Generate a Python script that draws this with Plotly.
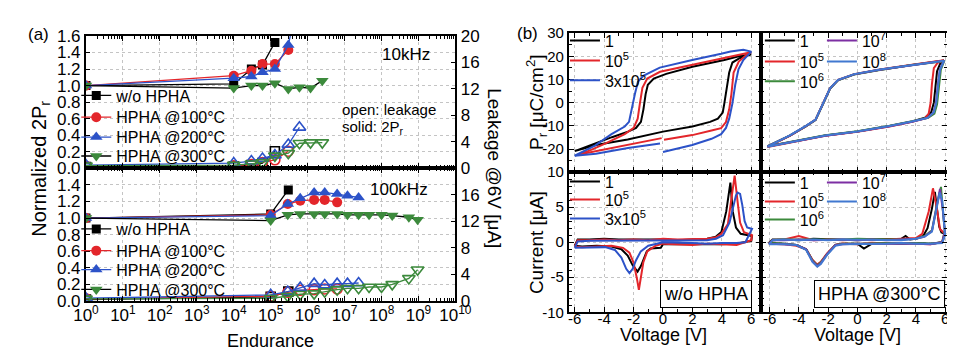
import plotly.graph_objects as go

W, H = 955, 354
def px(x): return x / W
def py(y): return 1 - y / H

FONT = "Liberation Sans, Arial, sans-serif"
BLACK, RED, BLUE, GREEN, PURPLE, LBLUE = "#000000", "#e3262b", "#2c52c8", "#3c8a3c", "#7d2fa3", "#4178d0"
GRID = "#c4c4c4"

# ---------------- (a) endurance data ----------------
# 10 kHz : normalized 2Pr (left axis), leakage @6V [uA] (right axis)
n10_wo = [1, 1e4, 3e4, 6e4, 1.3e5]
pr10_wo = [1.00, 1.02, 1.20, 1.25, 1.52]
lk10_wo = [0.2, 0.3, 0.5, 0.8, 2.6]
n10_100 = [1, 1e4, 3e4, 6e4, 1.3e5, 3e5]
pr10_100 = [1.00, 1.12, 1.18, 1.26, 1.26, 1.43]
lk10_100 = [0.3, 0.4, 0.6, 0.9, 1.3, 2.6]
n10_200 = [1, 1e4, 3e4, 6e4, 1.3e5, 3e5, 6e5]
pr10_200 = [1.00, 1.09, 1.11, 1.16, 1.20, 1.49, 2.10]
lk10_200 = [0.5, 0.8, 1.1, 1.5, 2.0, 3.6, 6.2]
n10_300 = [1, 1e4, 3e4, 6e4, 1.3e5, 3e5, 6e5, 1.2e6, 2.5e6]
pr10_300 = [1.00, 0.97, 1.00, 1.00, 1.03, 0.96, 0.98, 0.97, 1.06]
lk10_300 = [0.4, 0.5, 0.7, 0.9, 1.9, 2.3, 3.8, 3.9, 3.9]

# 100 kHz
n100_wo = [1, 1e5, 3e5]
pr100_wo = [1.00, 1.05, 1.34]
lk100_wo = [0.2, 0.6, 1.4]
n100_100 = [1, 1e5, 2.9e5, 6.3e5, 1.5e6, 2.9e6, 6.3e6]
pr100_100 = [1.00, 1.04, 1.17, 1.21, 1.22, 1.22, 1.19]
lk100_100 = [0.3, 0.7, 1.3, 1.6, 1.7, 1.8, 1.8]
n100_200 = [1, 1e5, 2.9e5, 6.3e5, 1.5e6, 2.9e6, 6.3e6, 1.2e7, 2.4e7]
pr100_200 = [1.00, 1.03, 1.17, 1.24, 1.31, 1.31, 1.29, 1.27, 1.25]
lk100_200 = [0.4, 0.9, 1.4, 2.0, 2.6, 2.4, 2.6, 2.6, 2.7]
n100_300 = [1, 1e5, 2.9e5, 6.3e5, 1.5e6, 2.9e6, 6.3e6, 1.2e7, 2.4e7, 4.6e7, 1e8, 1.95e8, 5.5e8, 9.5e8]
pr100_300 = [1.00, 0.97, 1.04, 1.05, 1.05, 1.05, 1.05, 1.04, 1.04, 1.04, 1.04, 1.03, 1.01, 0.98]
lk100_300 = [0.3, 0.4, 0.7, 1.0, 1.1, 1.4, 1.7, 1.9, 1.9, 2.1, 2.1, 2.5, 3.4, 4.7]

legend_a = ["w/o HPHA", "HPHA @100°C", "HPHA @200°C", "HPHA @300°C"]

# ---------------- (b) P-V loops, w/o HPHA ----------------
v_pa1 = [-6.0, -4.56, -2.4, 0.0, 2.0, 3.2, 3.73, 4.06, 4.17, 4.32, 4.5, 4.72, 5.15, 6.0,
         5.15, 4.17, 2.0, 0.22, -0.63, -1.03, -1.18, -1.33, -1.5, -1.83, -2.38, -3.47, -4.56, -6.0]
p_pa1 = [-20.9, -18.3, -15.9, -12.5, -10.3, -8.3, -6.9, -4.3, -0.3, 6.4, 13.0, 17.3, 19.0, 20.8,
         20.0, 18.4, 15.5, 12.4, 10.4, 7.7, 3.7, -2.9, -8.3, -10.9, -12.5, -14.9, -17.6, -20.9]
v_pa2 = [-5.79, -4.56, -2.38, -0.09, None, 0.07, 1.99, 3.3, 3.95, 4.28, 4.5, 4.65, 4.8, 5.15, 5.57, 5.98,
         5.04, 4.17, 1.99, -0.2, -1.07, -1.4, -1.57, -1.72, -1.99, -2.6, -3.9, -5.0, -5.79]
p_pa2 = [-22.5, -20.9, -18.3, -15.3, None, -16.0, -14.0, -12.0, -11.0, -8.4, -2.9, 3.7, 13.0, 17.7, 20.0, 21.7,
         20.4, 19.1, 16.4, 13.3, 10.4, 6.4, -0.3, -6.9, -10.9, -13.6, -17.6, -20.7, -22.5]
v_pa3 = [-6.0, -4.56, -2.38, -0.2, None, 0.0, 1.99, 3.3, 3.95, 4.28, 4.5, 4.72, 4.91, 5.13, 5.46, 6.0,
         5.46, 4.59, 3.95, 1.99, -0.22, -1.31, -1.7, -1.91, -2.12, -2.31, -2.6, -3.5, -4.6, -6.0]
p_pa3 = [-22.9, -22.0, -19.6, -17.6, None, -21.3, -18.3, -15.6, -13.6, -10.9, -6.9, -0.3, 7.7, 14.4, 18.4, 22.0,
         22.8, 22.1, 21.1, 18.4, 15.1, 11.7, 9.1, 3.7, -2.9, -8.3, -10.3, -13.6, -18.4, -22.9]
names_a = ["1", "10<sup>5</sup>", "3x10<sup>5</sup>"]

# ---------------- (b) P-V loops, HPHA @300°C ----------------
v_pb1 = [-6.15, -3.96, -2.2, 0.0, 2.2, 3.74, 4.62, 5.05, 5.23, 5.34, 5.45, 5.67, 5.93,
         3.74, 1.54, -0.22, -1.32, -1.87, -2.2, -2.53, -2.86, -3.52, -4.62, -6.15]
p_pb1 = [-18.9, -16.2, -14.2, -12.4, -10.1, -8.1, -6.5, -4.1, 0.0, 6.8, 13.5, 16.9, 18.2,
         16.2, 14.2, 12.2, 9.7, 6.1, 1.4, -3.4, -7.4, -10.1, -14.2, -18.9]
v_pb2 = [-6.15, -3.96, -2.2, 0.0, 2.2, 3.74, 4.62, 4.88, 5.01, 5.1, 5.23, 5.49, 5.93,
         3.74, 1.54, -0.22, -1.32, -1.87, -2.2, -2.53, -2.86, -3.52, -4.62, -6.15]
p_pb2 = [-19.1, -16.4, -14.3, -12.6, -10.3, -8.3, -6.8, -4.7, 0.0, 8.1, 14.9, 17.2, 18.3,
         16.3, 14.3, 12.3, 9.8, 6.2, 1.5, -3.3, -7.3, -10.2, -14.3, -19.1]
v_pb3 = [-6.15, -3.96, -2.2, 0.0, 2.2, 3.74, 4.84, 5.27, 5.45, 5.58, 5.71, 5.93,
         3.74, 1.54, -0.22, -1.32, -1.87, -2.2, -2.53, -2.86, -3.52, -4.62, -6.15]
p_pb3 = [-18.8, -16.1, -14.1, -12.3, -10.0, -8.0, -6.5, -4.7, -0.7, 6.8, 14.2, 17.8,
         16.2, 14.1, 12.1, 9.6, 6.0, 1.3, -3.5, -7.5, -10.2, -14.2, -18.8]
v_pb4 = [-6.15, -3.96, -2.2, 0.0, 2.2, 3.74, 4.8, 5.2, 5.38, 5.5, 5.64, 5.93,
         3.74, 1.54, -0.22, -1.32, -1.87, -2.2, -2.53, -2.86, -3.52, -4.62, -6.15]
p_pb4 = [-18.9, -16.3, -14.3, -12.5, -10.2, -8.2, -6.6, -4.3, 0.0, 7.2, 14.3, 18.1,
         16.2, 14.2, 12.2, 9.7, 6.1, 1.4, -3.4, -7.4, -10.1, -14.2, -18.9]
v_pb5 = [-6.15, -3.96, -2.2, 0.0, 2.2, 3.74, 4.8, 5.23, 5.4, 5.52, 5.65, 5.93,
         3.74, 1.54, -0.22, -1.32, -1.87, -2.2, -2.53, -2.86, -3.52, -4.62, -6.15]
p_pb5 = [-19.0, -16.2, -14.2, -12.4, -10.1, -8.1, -6.6, -4.1, 0.0, 7.4, 14.2, 18.1,
         16.3, 14.3, 12.3, 9.8, 6.2, 1.5, -3.3, -7.3, -10.0, -14.1, -19.0]
names_b = ["1", "10<sup>5</sup>", "10<sup>6</sup>", "10<sup>7</sup>", "10<sup>8</sup>"]

# ---------------- (b) I-V curves, w/o HPHA ----------------
v_ia1 = [-6.0, -5.8, -5.0, -4.0, -3.0, -2.0, -1.0, 0.0, 1.0, 2.0, 3.0, 3.6, 3.97, 4.3, 4.45, 4.58, 4.74, 4.96, 5.28, 6.05,
         6.0, 5.0, 4.0, 3.0, 2.0, 1.0, 0.0, -0.15, -0.85, -1.1, -1.3, -1.5, -1.73, -2.06, -2.4, -2.83, -3.5, -4.5, -5.5, -6.0]
i_ia1 = [-0.5, 0.4, 0.4, 0.5, 0.4, 0.4, 0.5, 0.4, 0.3, 0.4, 0.5, 0.8, 1.45, 4.4, 6.7, 8.5, 4.4, 2.1, 1.2, 0.9,
         0.2, -0.2, -0.3, -0.3, -0.3, -0.2, -0.3, -0.8, -0.9, -1.3, -2.4, -3.4, -4.2, -3.3, -1.9, -1.0, -0.6, -0.5, -0.6, -0.5]
v_ia2 = [-6.0, -5.8, -5.0, -4.0, -3.0, -2.0, -1.0, 0.0, 1.0, 2.0, 3.0, 3.6, 3.97, 4.41, 4.63, 4.8, 4.87, 5.07, 5.24, 5.5, 6.05,
         6.0, 5.0, 4.0, 3.0, 2.0, 1.0, 0.0, -0.5, -1.07, -1.34, -1.56, -1.64, -1.78, -2.0, -2.28, -2.72, -3.5, -4.5, -5.5, -6.0]
i_ia2 = [-0.6, 0.3, 0.3, 0.4, 0.3, 0.4, 0.3, 0.5, 0.4, 0.4, 0.5, 0.7, 1.2, 2.6, 5.8, 8.9, 9.5, 5.8, 2.8, 1.45, 1.0,
         0.3, -0.4, -0.3, -0.2, -0.4, -0.3, -0.2, -0.5, -1.3, -2.9, -5.6, -6.8, -5.1, -2.9, -1.5, -0.8, -0.5, -0.6, -0.7, -0.6]
v_ia3 = [-6.0, -5.8, -5.0, -4.0, -3.0, -2.0, -1.0, 0.0, 1.0, 2.0, 3.0, 3.6, 4.08, 4.52, 4.8, 4.96, 5.07, 5.24, 5.39, 5.55, 5.72, 6.05,
         5.6, 5.0, 4.0, 3.0, 2.0, 1.0, 0.0, -1.0, -1.51, -1.84, -2.06, -2.28, -2.5, -2.83, -3.27, -3.93, -5.0, -6.0]
i_ia3 = [-0.8, 0.1, 0.2, 0.2, 0.3, 0.2, 0.3, 0.2, 0.2, 0.3, 0.3, 0.5, 1.0, 2.8, 5.3, 6.7, 7.1, 6.9, 5.3, 3.0, 2.1, 1.9,
         0.0, -0.1, -0.1, -0.2, -0.1, -0.1, 0.0, -0.5, -1.3, -2.6, -3.8, -4.4, -3.8, -2.2, -1.1, -0.7, -0.8, -0.8]

# ---------------- (b) I-V curves, HPHA @300°C ----------------
v_ib1 = [-6.05, -5.8, -5.0, -4.0, -3.0, -2.0, -1.0, 0.0, 1.0, 2.0, 3.0, 3.3, 3.6, 4.0, 4.5, 4.8, 5.1, 5.3, 5.45, 5.6, 5.75, 6.0,
         5.8, 5.0, 4.0, 3.0, 2.0, 1.0, 0.45, 0.0, -1.0, -1.5, -2.07, -2.5, -2.74, -3.07, -3.5, -4.17, -5.0, -6.05]
i_ib1 = [-0.1, 0.4, 0.4, 0.3, 0.5, 0.4, 0.4, 0.3, 0.4, 0.4, 0.5, 0.9, 0.4, 0.5, 0.9, 2.0, 4.8, 7.2, 5.0, 2.2, 1.4, 1.2,
         0.0, -0.2, -0.1, -0.2, -0.1, -0.2, -0.9, -0.2, -0.2, -0.4, -1.7, -2.9, -3.3, -2.6, -1.0, -0.4, -0.2, -0.1]
v_ib2 = [-6.05, -5.8, -5.0, -4.0, -3.0, -2.0, -1.0, 0.0, 1.0, 2.0, 3.0, 4.0, 4.44, 4.88, 5.17, 5.43, 5.65, 5.98,
         5.8, 5.0, 4.0, 3.0, 2.0, 1.0, 0.0, -1.0, -1.5, -2.07, -2.5, -2.74, -3.07, -3.5, -4.17, -5.0, -6.05]
i_ib2 = [-0.2, 0.3, 0.4, 0.9, 0.3, 0.4, 0.3, 0.4, 0.3, 0.4, 0.4, 0.6, 1.2, 4.4, 7.7, 4.9, 1.9, 1.2,
         0.0, -0.3, -0.2, -0.1, -0.2, -0.1, -0.3, -0.2, -0.4, -1.6, -2.8, -3.2, -2.5, -1.0, -0.5, -0.3, -0.2]
v_ib3 = [-6.05, -5.8, -5.0, -4.0, -3.0, -2.0, -1.0, 0.0, 1.0, 2.0, 3.0, 4.0, 4.6, 5.1, 5.43, 5.72, 5.87, 5.98,
         5.8, 5.0, 4.0, 3.0, 2.0, 1.0, 0.0, -1.0, -1.5, -2.07, -2.5, -2.74, -3.07, -3.5, -4.17, -5.0, -6.05]
i_ib3 = [-0.2, 0.3, 0.4, 0.4, 0.4, 0.3, 0.4, 0.5, 0.4, 0.4, 0.4, 0.5, 0.9, 1.7, 5.3, 7.9, 3.9, 1.7,
         0.0, -0.2, -0.1, -0.2, -0.1, -0.2, -0.2, -0.2, -0.4, -1.7, -2.9, -3.3, -2.6, -1.0, -0.4, -0.2, -0.1]
v_ib4 = [-6.05, -5.8, -5.0, -4.0, -3.0, -2.0, -1.0, 0.0, 1.0, 2.0, 3.0, 4.0, 4.6, 5.1, 5.4, 5.65, 5.85, 5.98,
         5.8, 5.0, 4.0, 3.0, 2.0, 1.0, 0.0, -1.0, -1.5, -2.07, -2.5, -2.74, -3.07, -3.5, -4.17, -5.0, -6.05]
i_ib4 = [-0.2, 0.3, 0.3, 0.4, 0.3, 0.4, 0.4, 0.3, 0.4, 0.3, 0.4, 0.5, 0.8, 1.6, 4.8, 7.6, 4.5, 1.5,
         0.0, -0.3, -0.2, -0.2, -0.1, -0.2, -0.2, -0.3, -0.4, -1.7, -3.0, -3.4, -2.7, -1.0, -0.4, -0.3, -0.2]
v_ib5 = [-6.05, -5.8, -5.0, -4.0, -3.0, -2.0, -1.0, 0.0, 1.0, 2.0, 3.0, 4.0, 4.6, 5.1, 5.4, 5.63, 5.8, 5.95, 6.0,
         5.8, 5.0, 4.0, 3.0, 2.0, 1.0, 0.0, -1.0, -1.5, -2.07, -2.5, -2.74, -3.07, -3.5, -4.17, -5.0, -6.05]
i_ib5 = [-0.3, 0.3, 0.4, 0.3, 0.4, 0.3, 0.4, 0.4, 0.3, 0.4, 0.3, 0.5, 0.8, 1.5, 4.5, 7.1, 6.0, 2.5, 1.0,
         -0.1, -0.2, -0.2, -0.1, -0.2, -0.2, -0.2, -0.3, -0.5, -1.8, -3.1, -3.5, -2.8, -1.1, -0.4, -0.3, -0.3]

fig = go.Figure()

# one small legend per entry, so each entry sits where the reference puts it
legend_layout = {}
def new_legend(x, y, size=16):
    k = len(legend_layout) + 1
    key = "legend" if k == 1 else "legend%d" % k
    legend_layout[key] = dict(x=px(x), y=py(y), xanchor="left", yanchor="middle",
                              bgcolor="rgba(0,0,0,0)", borderwidth=0,
                              font=dict(size=size, family=FONT, color="black"))
    return key

# ---------- (a) traces ----------
def endurance(n, pr, lk, color, lcolor, sym, size, name, xa, yl, yr, leg):
    fig.add_trace(go.Scatter(x=n, y=lk, xaxis=xa, yaxis=yr, mode="lines+markers",
                             line=dict(color=color, width=1.3),
                             marker=dict(symbol=sym + "-open", size=size, color=color,
                                         line=dict(width=1.6, color=color)),
                             showlegend=False, hoverinfo="skip"))
    fig.add_trace(go.Scatter(x=n, y=pr, xaxis=xa, yaxis=yl, mode="lines+markers", name=name,
                             line=dict(color=lcolor, width=1.3),
                             marker=dict(symbol=sym, size=size, color=color),
                             legend=leg, showlegend=True))

sets10 = [(n10_wo, pr10_wo, lk10_wo), (n10_100, pr10_100, lk10_100),
          (n10_200, pr10_200, lk10_200), (n10_300, pr10_300, lk10_300)]
sets100 = [(n100_wo, pr100_wo, lk100_wo), (n100_100, pr100_100, lk100_100),
           (n100_200, pr100_200, lk100_200), (n100_300, pr100_300, lk100_300)]
styles = [(BLACK, BLACK, "square", 9), (RED, RED, "circle", 10),
          (BLUE, BLUE, "triangle-up", 11), (GREEN, BLACK, "triangle-down", 11)]
rows_a_top = [83, 106, 127, 147]
rows_a_bot = [224, 247, 267, 288]
for (n, pr, lk), (c, lc, s, sz), nm, ry in zip(sets10, styles, legend_a, rows_a_top):
    endurance(n, pr, lk, c, lc, s, sz, nm, "x", "y", "y2", new_legend(57, ry))
for (n, pr, lk), (c, lc, s, sz), nm, ry in zip(sets100, styles, legend_a, rows_a_bot):
    endurance(n, pr, lk, c, lc, s, sz, nm, "x2", "y3", "y4", new_legend(57, ry))

# ---------- (b) traces ----------
def curve(x, y, color, name, xa, ya, leg):
    fig.add_trace(go.Scatter(x=x, y=y, xaxis=xa, yaxis=ya, mode="lines", name=name,
                             line=dict(color=color, width=2), connectgaps=False,
                             legend=leg, showlegend=True, hoverinfo="skip"))

rows_tl = [25, 46, 67]
rows_bl = [174, 193, 213]
for (v, p), c, nm, ry in zip([(v_pa1, p_pa1), (v_pa2, p_pa2), (v_pa3, p_pa3)], [BLACK, RED, BLUE], names_a, rows_tl):
    curve(v, p, c, nm, "x3", "y5", new_legend(561, ry))
for (v, i), c, nm, ry in zip([(v_ia1, i_ia1), (v_ia2, i_ia2), (v_ia3, i_ia3)], [BLACK, RED, BLUE], names_a, rows_bl):
    curve(v, i, c, nm, "x5", "y7", new_legend(561, ry))

cols_b = [BLACK, RED, GREEN, PURPLE, LBLUE]
pos_tr = [(762, 25), (762, 47), (762, 68), (826, 25), (826, 47)]
pos_br = [(762, 175), (762, 195), (762, 214), (826, 175), (826, 195)]
pv_b = [(v_pb1, p_pb1), (v_pb2, p_pb2), (v_pb3, p_pb3), (v_pb4, p_pb4), (v_pb5, p_pb5)]
iv_b = [(v_ib1, i_ib1), (v_ib2, i_ib2), (v_ib3, i_ib3), (v_ib4, i_ib4), (v_ib5, i_ib5)]
for (v, p), c, nm, (lx, ly) in zip(pv_b, cols_b, names_b, pos_tr):
    curve(v, p, c, nm, "x4", "y6", new_legend(lx, ly))
for (v, i), c, nm, (lx, ly) in zip(iv_b, cols_b, names_b, pos_br):
    curve(v, i, c, nm, "x6", "y8", new_legend(lx, ly))

# ---------- axes ----------
axline = dict(showline=True, linewidth=2, linecolor="black", zeroline=False,
              ticks="inside", tickcolor="black", tickwidth=1.3)
grid = dict(showgrid=True, gridcolor=GRID, griddash="dot", gridwidth=1)
minor_log = [m * 10 ** k for k in range(10) for m in range(2, 10)]
dec = [10 ** k for k in range(11)]

xa_log = dict(type="log", range=[0, 10], domain=[px(67), px(448)], mirror="ticks", ticklen=5,
              tickvals=dec, minor=dict(tickmode="array", tickvals=minor_log, ticks="inside",
                                       ticklen=3, tickcolor="black", showgrid=False),
              **axline, **grid)
fig.update_layout(
    xaxis=dict(anchor="y", showticklabels=False, **xa_log),
    xaxis2=dict(anchor="y3", showticklabels=True, ticklabelstandoff=-2,
                ticktext=["10<sup>%d</sup>" % k for k in range(11)],
                tickfont=dict(size=17), **xa_log),
    yaxis=dict(anchor="x", domain=[py(160), py(20)], range=[0, 1.6],
               tickvals=[0, 0.2, 0.4, 0.6, 0.8, 1.0, 1.2, 1.4, 1.6],
               ticktext=["0.0", "0.2", "0.4", "0.6", "0.8", "1.0", "1.2", "1.4", "1.6"],
               ticklen=4, tickfont=dict(size=17), **axline, **grid),
    yaxis2=dict(anchor="x", overlaying="y", side="right", range=[0, 20],
                tickvals=[0, 4, 8, 12, 16, 20], ticklen=4, tickfont=dict(size=17),
                showgrid=False, **axline),
    yaxis3=dict(anchor="x2", domain=[py(300), py(160)], range=[0, 1.6],
                tickvals=[0, 0.2, 0.4, 0.6, 0.8, 1.0, 1.2, 1.4],
                ticktext=["0.0", "0.2", "0.4", "0.6", "0.8", "1.0", "1.2", "1.4"],
                ticklen=4, tickfont=dict(size=17), **axline, **grid),
    yaxis4=dict(anchor="x2", overlaying="y3", side="right", range=[0, 20],
                tickvals=[0, 4, 8, 12, 16], ticklen=4, tickfont=dict(size=17),
                showgrid=False, **axline),
)

vt = [-6, -4, -2, 0, 2, 4, 6]
vtt = ["-6", "-4", "-2", "0", "2", "4", "6"]
xb = dict(mirror="ticks", ticklen=5, tickvals=vt, ticktext=vtt, tickfont=dict(size=15),
          minor=dict(dtick=1, ticks="inside", ticklen=3, tickcolor="black", showgrid=False),
          **axline, **grid)
yb = dict(mirror="ticks", ticklen=5, tickfont=dict(size=15),
          minor=dict(ticks="inside", ticklen=3, tickcolor="black", showgrid=False),
          **axline, **grid)
dom_l = [px(565), px(763)]
dom_r = [px(763), 1.0]
dom_t = [py(164), py(17)]
dom_b = [py(312), py(164)]
fig.update_layout(
    xaxis3=dict(anchor="y5", domain=dom_l, range=[-6.4, 6.65], showticklabels=False, **xb),
    xaxis4=dict(anchor="y6", domain=dom_r, range=[-6.6, 6.13], showticklabels=False, **xb),
    xaxis5=dict(anchor="y7", domain=dom_l, range=[-6.4, 6.65], showticklabels=True,
                ticklabelstandoff=-8, **xb),
    xaxis6=dict(anchor="y8", domain=dom_r, range=[-6.6, 6.13], showticklabels=True,
                ticklabelstandoff=-8, **xb),
    yaxis5=dict(anchor="x3", domain=dom_t, range=[-30, 30], tickvals=[-30, -20, -10, 0, 10, 20, 30],
                ticktext=["", "-20", "-10", "0", "10", "20", "30"], **yb),
    yaxis6=dict(anchor="x4", domain=dom_t, range=[-30, 30], tickvals=[-30, -20, -10, 0, 10, 20, 30],
                showticklabels=False, **yb),
    yaxis7=dict(anchor="x5", domain=dom_b, range=[-10, 10], tickvals=[-10, -5, 0, 5, 10],
                ticktext=["-10", "-5", "0", "5", "10"], **yb),
    yaxis8=dict(anchor="x6", domain=dom_b, range=[-10, 10], tickvals=[-10, -5, 0, 5, 10],
                showticklabels=False, **yb),
)
fig.update_layout(**legend_layout)

# ---------- text ----------
def txt(s, x, y, size=18, angle=0, xanchor="center", **kw):
    fig.add_annotation(text=s, x=px(x), y=py(y), xref="paper", yref="paper", showarrow=False,
                       textangle=angle, xanchor=xanchor, yanchor="middle",
                       font=dict(size=size, family=FONT, color="black"), **kw)

txt("(a)", 18, 18, 17)
txt("(b)", 522, 17, 17)
txt("Normalized 2P<sub>r</sub>", 20, 160, 20, -90)
txt("Leakage @6V [μA]", 488, 160, 19, 90)
txt("Endurance", 257, 342, 18)
txt("10kHz", 397, 40, 17)
txt("100kHz", 390, 182, 17)
txt("open: leakage", 329, 98, 15, xanchor="left")
txt("solid: 2P<sub>r</sub>", 329, 117, 15, xanchor="left")
txt("P<sub>r</sub> [μC/cm<sup>2</sup>]", 531, 90, 19, -90)
txt("Current [μA]", 531, 238, 19, -90)
txt("Voltage [V]", 663, 336, 18)
txt("Voltage [V]", 863, 336, 18)
txt("w/o HPHA", 706, 293, 18, bordercolor="black", borderwidth=1, borderpad=3, bgcolor="white")
txt("HPHA @300°C", 885, 293, 18, bordercolor="black", borderwidth=1, borderpad=3, bgcolor="white")

fig.update_layout(width=W, height=H, margin=dict(l=0, r=0, t=0, b=0), autosize=False,
                  paper_bgcolor="white", plot_bgcolor="white",
                  font=dict(family=FONT, size=16, color="black"))

fig.write_html("out.html")
